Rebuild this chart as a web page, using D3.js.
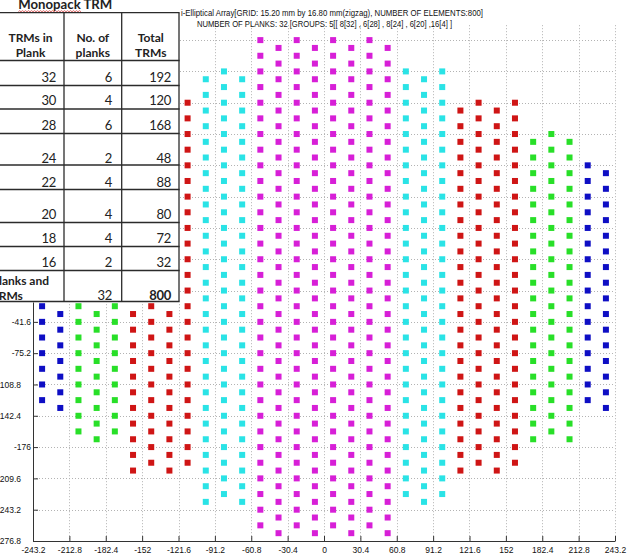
<!DOCTYPE html>
<html>
<head>
<meta charset="utf-8">
<script src="https://cdn.jsdelivr.net/npm/d3@7"></script>
<style>
  html, body { margin: 0; padding: 0; background: #fff; }
  svg { display: block; }
</style>
</head>
<body>
<script>
// ---- Element array: one entry per plank (column), left to right ----
const plankX = [-235.6, -220.4, -205.2, -190.0, -174.8, -159.6, -144.4, -129.2,
                -114.0, -98.8, -83.6, -68.4, -53.2, -38.0, -22.8, -7.6,
                7.6, 22.8, 38.0, 53.2, 68.4, 83.6, 98.8, 114.0,
                129.2, 144.4, 159.6, 174.8, 190.0, 205.2, 220.4, 235.6];
const plankSize = [16, 16, 20, 20, 20, 24, 24, 24,
                   24, 28, 28, 28, 32, 32, 32, 32,
                   32, 32, 32, 32, 28, 28, 28, 24,
                   24, 24, 24, 20, 20, 20, 16, 16];
// y of the first (top) element of each plank, mm
const plankTop = [126.4, 118.0, 160.0, 151.6, 160.0, 185.2, 193.6, 185.2,
                  193.6, 218.8, 227.2, 218.8, 260.8, 252.4, 260.8, 252.4,
                  260.8, 252.4, 260.8, 252.4, 227.2, 218.8, 227.2, 185.2,
                  193.6, 185.2, 193.6, 151.6, 160.0, 151.6, 126.4, 118.0];
const rowPitch = 16.8;   // element pitch along a plank, mm

const groupSizes  = [32, 28, 24, 20, 16];
const groupColors = ["#d71fd7", "#2ae3e6", "#cf1515", "#28df28", "#0e0ec4"];

// ---- Axes ----
const xDomain = [-243.2, 243.2];
const yDomain = [-276.8, 276.8];
const xTicks = [-243.2, -212.8, -182.4, -152, -121.6, -91.2, -60.8, -30.4, 0,
                30.4, 60.8, 91.2, 121.6, 152, 182.4, 212.8, 243.2];
const yTicks = [-276.8, -243.2, -209.6, -176, -142.4, -108.8, -75.2, -41.6, -8,
                25.6, 59.2, 92.8, 126.4, 160, 193.6, 227.2, 260.8];

const titleLines = [
  "i-Elliptical Array[GRID: 15.20 mm by 16.80 mm(zigzag), NUMBER OF ELEMENTS:800]",
  "NUMBER OF PLANKS: 32 [GROUPS: 5[[ 8[32] , 6[28] , 8[24] , 6[20] ,16[4] ]"
];

// ---- Summary table ----
const tableTitle = "Monopack TRM";
const tableHeaders = [["TRMs in", "Plank"], ["No. of", "planks"], ["Total", "TRMs"]];
const trmsInPlank = [32, 30, 28, 24, 22, 20, 18, 16];
const planksCount = [6, 4, 6, 2, 4, 4, 4, 2];
const totalTrms   = [192, 120, 168, 48, 88, 80, 72, 32];
const totalLabel  = ["Planks and", "TRMs"];
const totalPlanks = 32;
const totalElements = 800;

// ---------------------------------------------------------------
const W = 628, H = 559;
const svg = d3.select("body").append("svg")
  .attr("width", W).attr("height", H)
  .attr("viewBox", `0 0 ${W} ${H}`);
svg.append("rect").attr("width", W).attr("height", H).attr("fill", "#fff");

const plot = { left: 33, right: 615, top: 25.2, bottom: 541 };
const tableBox = { width: 180, height: 302.5 };
const x = d3.scaleLinear().domain(xDomain).range([plot.left, plot.right]);
const y = d3.scaleLinear().domain(yDomain).range([plot.bottom, plot.top]);
const color = d3.scaleOrdinal().domain(groupSizes).range(groupColors);
const fmt = d => String(Math.round(d * 10) / 10);

// dotted grid
const grid = svg.append("g")
  .attr("stroke", "#b3b3b3").attr("stroke-width", 1)
  .attr("stroke-dasharray", "1,2").attr("fill", "none");
grid.selectAll("line.gx").data(xTicks).join("line").attr("class", "gx")
  .attr("x1", d => Math.round(x(d)) + 0.5).attr("x2", d => Math.round(x(d)) + 0.5)
  .attr("y1", plot.top).attr("y2", plot.bottom);
grid.selectAll("line.gy").data(yTicks).join("line").attr("class", "gy")
  .attr("x1", plot.left).attr("x2", plot.right)
  .attr("y1", d => Math.round(y(d)) + 0.5).attr("y2", d => Math.round(y(d)) + 0.5);

// elements
const elements = [];
plankX.forEach((px, i) => {
  for (let k = 0; k < plankSize[i]; k++) {
    elements.push({ x: px, y: +(plankTop[i] - k * rowPitch).toFixed(1), g: plankSize[i] });
  }
});
const sq = 6;
svg.append("g").selectAll("rect").data(elements).join("rect")
  .attr("x", d => x(d.x) - sq / 2).attr("y", d => y(d.y) - sq / 2)
  .attr("width", sq).attr("height", sq)
  .attr("fill", d => color(d.g));

// axes
const axisFont = "'Liberation Sans', Arial, sans-serif";
const xAxis = svg.append("g")
  .attr("transform", `translate(0,${plot.bottom})`)
  .call(d3.axisBottom(x).tickValues(xTicks).tickFormat(fmt)
        .tickSize(-5).tickSizeOuter(0).tickPadding(5.5));
const yAxis = svg.append("g")
  .attr("transform", `translate(${plot.left},0)`)
  .call(d3.axisLeft(y).tickValues(yTicks).tickFormat(fmt)
        .tickSize(-5).tickSizeOuter(0).tickPadding(2));
[xAxis, yAxis].forEach(a => {
  a.attr("font-family", axisFont).attr("font-size", 8.5);
  a.select(".domain").attr("stroke", "#333");
  a.selectAll(".tick line").attr("stroke", "#333");
  a.selectAll(".tick text").attr("fill", "#111");
});
// long labels run past the left edge of the figure
yAxis.selectAll(".tick text")
  .filter(d => fmt(d).length > 5)
  .attr("text-anchor", "start").attr("x", -plot.left - 3);
// labels lying under the table overlay are not shown
yAxis.selectAll(".tick text")
  .filter(d => y(d) < tableBox.height + 2)
  .attr("display", "none");

// title
svg.append("g").attr("font-family", axisFont).attr("font-size", 9).attr("fill", "#111")
  .selectAll("text").data(titleLines).join("text")
  .attr("x", (d, i) => i === 0 ? 181 : 197)
  .attr("y", (d, i) => i === 0 ? 15.5 : 27)
  .attr("textLength", (d, i) => i === 0 ? 302 : 255)
  .attr("lengthAdjust", "spacingAndGlyphs")
  .text(d => d);

// ---- summary table overlay ----
const tbl = svg.append("g").attr("font-family", "Lato, 'Open Sans', sans-serif").attr("fill", "#222");
tbl.append("rect").attr("x", 0).attr("y", 0)
  .attr("width", tableBox.width).attr("height", tableBox.height).attr("fill", "#fff");

const colEdges = [-3, 64, 121.7, 179];
const rowEdges = [12.7, 60.5, 85.5, 109, 133.5, 165, 189.5, 222.5, 246.5, 270.5, 301.5];

const lines = tbl.append("g").attr("stroke", "#2b2b2b").attr("stroke-width", 1.3);
lines.selectAll("line.h").data(rowEdges).join("line").attr("class", "h")
  .attr("x1", 0).attr("x2", colEdges[3] + 0.6)
  .attr("y1", d => d).attr("y2", d => d);
lines.selectAll("line.v").data(colEdges.slice(1)).join("line").attr("class", "v")
  .attr("x1", d => d).attr("x2", d => d)
  .attr("y1", rowEdges[0]).attr("y2", rowEdges[rowEdges.length - 1]);

// title with spell-check squiggle
tbl.append("text").attr("x", 18.3).attr("y", 8.6)
  .attr("font-size", 13.5).attr("font-weight", 700)
  .attr("textLength", 94).attr("lengthAdjust", "spacingAndGlyphs")
  .text(tableTitle);
let zz = "M18.5,11.8";
for (let xx = 19.5, up = true; xx <= 82; xx += 1.5, up = !up) zz += `L${xx},${up ? 10.6 : 11.8}`;
tbl.append("path").attr("d", zz).attr("fill", "none")
  .attr("stroke", "#d84b4b").attr("stroke-width", 0.8);

// header cells
const colCenters = [30.5, 92.8, 150.8];
tableHeaders.forEach((hdr, c) => {
  hdr.forEach((t, j) => {
    tbl.append("text").attr("x", colCenters[c]).attr("y", j === 0 ? 41.5 : 57)
      .attr("text-anchor", "middle").attr("font-size", 12).attr("font-weight", 700)
      .text(t);
  });
});

// body rows (bottom aligned, numbers right aligned)
const baselines = [81.7, 105.3, 129.6, 163, 186.6, 218.6, 243, 267.2];
const colRight = [56, 112, 171];
trmsInPlank.forEach((v, r) => {
  [v, planksCount[r], totalTrms[r]].forEach((val, c) => {
    tbl.append("text").attr("x", colRight[c]).attr("y", baselines[r])
      .attr("text-anchor", "end").attr("font-size", 13).attr("letter-spacing", -0.3)
      .text(val);
  });
});

// total row
totalLabel.forEach((t, j) => {
  tbl.append("text").attr("x", -8.5).attr("y", j === 0 ? 284.5 : 299.8)
    .attr("font-size", 12).attr("font-weight", 700).text(t);
});
tbl.append("text").attr("x", colRight[1]).attr("y", 299.8).attr("text-anchor", "end")
  .attr("font-size", 13).attr("letter-spacing", -0.3).text(totalPlanks);
tbl.append("text").attr("x", colRight[2]).attr("y", 299.8).attr("text-anchor", "end")
  .attr("font-size", 13).attr("font-weight", 700).attr("letter-spacing", -0.3).text(totalElements);
</script>
</body>
</html>
